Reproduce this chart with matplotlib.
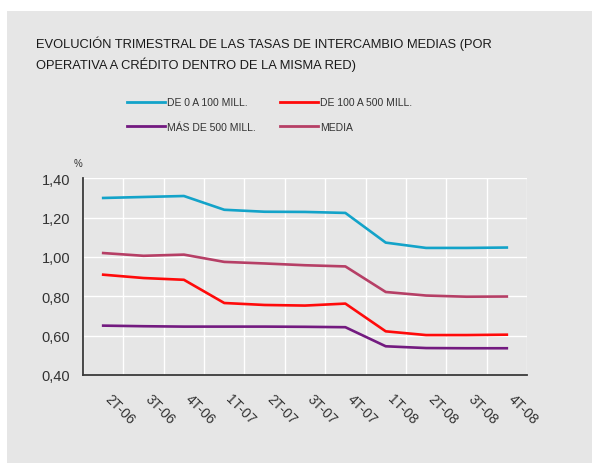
import matplotlib
matplotlib.use("Agg")
import matplotlib.pyplot as plt
from matplotlib.ticker import FuncFormatter, MultipleLocator
import matplotlib.transforms as mtransforms
from matplotlib.lines import Line2D

categories = ["2T-06", "3T-06", "4T-06", "1T-07", "2T-07", "3T-07", "4T-07",
              "1T-08", "2T-08", "3T-08", "4T-08"]
de_0_100 = [1.30, 1.305, 1.31, 1.24, 1.23, 1.229, 1.224, 1.073, 1.046, 1.046, 1.048]
de_100_500 = [0.91, 0.893, 0.884, 0.766, 0.756, 0.753, 0.763, 0.622, 0.603, 0.603, 0.605]
mas_500 = [0.651, 0.648, 0.646, 0.646, 0.646, 0.645, 0.643, 0.546, 0.537, 0.536, 0.536]
media = [1.02, 1.006, 1.012, 0.975, 0.967, 0.958, 0.952, 0.822, 0.804, 0.798, 0.799]

series_names = ["DE 0 A 100 MILL.", "DE 100 A 500 MILL.", "MÁS DE 500 MILL.", "MEDIA"]
series_colors = ["#13A3C9", "#FF0A0A", "#731A80", "#B63F66"]

plt.rcParams['font.family'] = ['Liberation Sans', 'DejaVu Sans']

W, H = 593, 464
fig = plt.figure(figsize=(W / 100, H / 100), dpi=100)
fig.patch.set_facecolor("white")
bg = plt.Rectangle((7 / W, 0), (592 - 7) / W, (H - 12) / H, transform=fig.transFigure,
                   facecolor="#E6E6E6", edgecolor="none", zorder=-10)
fig.patches.append(bg)

ax = fig.add_axes([83 / W, (H - 376) / H, (527 - 83) / W, (376 - 179.3) / H])
ax.set_facecolor("#E6E6E6")

x = list(range(len(categories)))
lines = []
for vals, name, col in zip([de_0_100, de_100_500, mas_500, media], series_names, series_colors):
    ln, = ax.plot(x, vals, color=col, lw=1.9, solid_joinstyle="round", label=name, zorder=3)
    lines.append(ln)

ax.set_xlim(-0.5, len(categories) - 0.5)
ax.set_ylim(0.40, 1.40)
ax.yaxis.set_major_locator(MultipleLocator(0.2))
ax.yaxis.set_major_formatter(FuncFormatter(lambda v, p: f"{v:.2f}".replace(".", ",")))

# vertical gridlines at category boundaries
ax.set_xticks([i - 0.5 for i in range(len(categories) + 1)], minor=True)
ax.grid(True, which="minor", axis="x", color="white", lw=1.0, zorder=1)
ax.grid(True, which="major", axis="y", color="white", lw=1.0, zorder=1)
ax.tick_params(which="minor", length=0)

ax.set_xticks(x)
ax.set_xticklabels(categories)
ax.tick_params(axis="x", which="major", length=0, pad=15, labelsize=10, labelcolor="#333333")
ax.tick_params(axis="y", length=0, pad=9, labelsize=10.5, labelcolor="#333333")
offset = mtransforms.ScaledTranslation(4 / 100, 0, fig.dpi_scale_trans)
for lab in ax.get_xticklabels():
    lab.set_rotation(-45)
    lab.set_rotation_mode("anchor")
    lab.set_ha("left")
    lab.set_va("center")
    lab.set_transform(lab.get_transform() + offset)

for s in ["top", "right"]:
    ax.spines[s].set_visible(False)
for s in ["left", "bottom"]:
    ax.spines[s].set_color("#3a3a3a")
    ax.spines[s].set_linewidth(1.3)

fig.text(78 / W, 1 - 164 / H, "%", fontsize=7, color="#333333", ha="center", va="center")

fig.text(36 / W, 1 - 69 / H,
         "EVOLUCIÓN TRIMESTRAL DE LAS TASAS DE INTERCAMBIO MEDIAS (POR\nOPERATIVA A CRÉDITO DENTRO DE LA MISMA RED)",
         fontsize=9.3, color="#1a1a1a", ha="left", va="baseline", linespacing=1.55)

# legend (row-major order as in the reference)
order = [0, 2, 1, 3]
handles = [Line2D([], [], color=series_colors[i], lw=2.0) for i in order]
labels = [series_names[i] for i in order]
leg = fig.legend(handles, labels, loc="center left", ncol=2,
                 bbox_to_anchor=(127 / W, 1 - 115.5 / H), frameon=False,
                 borderpad=0, borderaxespad=0,
                 fontsize=7.5, handlelength=3.65, handletextpad=0.2, columnspacing=2.3,
                 labelspacing=1.4)
for t in leg.get_texts():
    t.set_color("#333333")

fig.savefig("out.png", dpi=100, facecolor=fig.get_facecolor())
